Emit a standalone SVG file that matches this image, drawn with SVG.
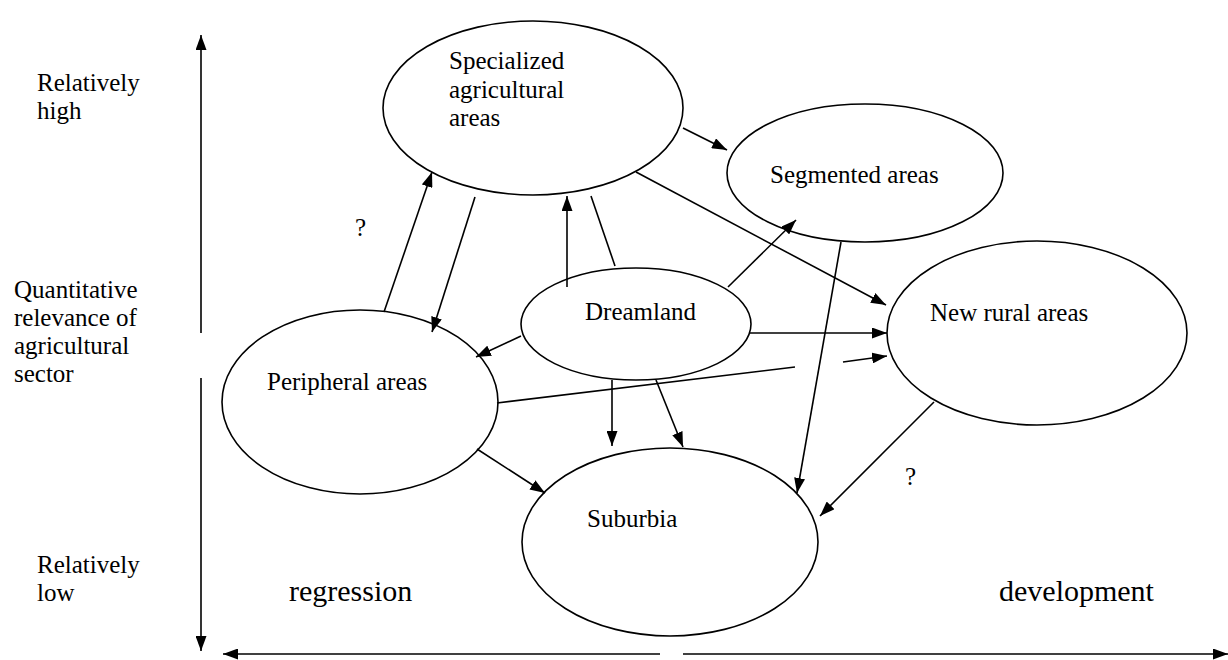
<svg xmlns="http://www.w3.org/2000/svg" width="1228" height="660" viewBox="0 0 1228 660">
<style>
.n{fill:#fff;stroke:#000;stroke-width:1.6}
.t{font-family:"Liberation Serif","Times New Roman",serif;font-size:25px;fill:#000}
.b{font-family:"Liberation Serif","Times New Roman",serif;font-size:30px;fill:#000}
.c line{stroke:#000;stroke-width:1.6}
.a{marker-end:url(#ah)}
</style>
<defs>
<marker id="ah" viewBox="0 0 15 11" refX="15" refY="5.5" markerWidth="15" markerHeight="11" markerUnits="userSpaceOnUse" orient="auto">
<path d="M0,0 L15,5.5 L0,11 z" fill="#000"/>
</marker>
</defs>
<rect width="1228" height="660" fill="#fff"/>
<g id="axes" class="c">
<line class="a" x1="201" y1="333" x2="201" y2="35"/>
<line class="a" x1="201" y1="378" x2="201" y2="651"/>
<line class="a" x1="660" y1="654" x2="223" y2="654"/>
<line class="a" x1="683" y1="654" x2="1228" y2="654"/>
</g>
<g id="axis-labels">
<text class="t" x="37" y="91">Relatively</text>
<text class="t" x="37" y="119">high</text>
<text class="t" x="14" y="298">Quantitative</text>
<text class="t" x="14" y="326">relevance of</text>
<text class="t" x="14" y="354">agricultural</text>
<text class="t" x="14" y="382">sector</text>
<text class="t" x="37" y="573">Relatively</text>
<text class="t" x="37" y="601">low</text>
<text class="b" x="289" y="601">regression</text>
<text class="b" x="999" y="601">development</text>
<text class="t" x="355" y="236">?</text>
<text class="t" x="905" y="485">?</text>
</g>
<g id="specialized">
<ellipse class="n" cx="533" cy="108" rx="150" ry="87"/>
<text class="t" x="449" y="69">Specialized</text>
<text class="t" x="449" y="98">agricultural</text>
<text class="t" x="449" y="126">areas</text>
</g>
<g id="segmented">
<ellipse class="n" cx="865" cy="173" rx="138" ry="69"/>
<text class="t" x="770" y="183">Segmented areas</text>
</g>
<g id="dreamland">
<ellipse class="n" cx="636" cy="324" rx="115" ry="56"/>
<text class="t" x="585" y="320">Dreamland</text>
</g>
<g id="newrural">
<ellipse class="n" cx="1037" cy="333" rx="150" ry="92"/>
<text class="t" x="930" y="321">New rural areas</text>
</g>
<g id="peripheral">
<ellipse class="n" cx="360" cy="402" rx="138" ry="92"/>
<text class="t" x="267" y="390">Peripheral areas</text>
</g>
<g id="suburbia">
<ellipse class="n" cx="670" cy="542" rx="148" ry="94"/>
<text class="t" x="587" y="527">Suburbia</text>
</g>
<g id="connectors" class="c">
<line class="a" x1="384" y1="312" x2="432" y2="172"/>
<line class="a" x1="475" y1="197" x2="432" y2="332"/>
<line class="a" x1="567" y1="287" x2="567" y2="196"/>
<line x1="615" y1="266" x2="591" y2="196"/>
<line class="a" x1="636" y1="172" x2="886" y2="305"/>
<line class="a" x1="683" y1="128" x2="727" y2="150"/>
<line class="a" x1="728" y1="287" x2="796" y2="220"/>
<line class="a" x1="521" y1="336" x2="476" y2="357"/>
<line class="a" x1="750" y1="333" x2="887" y2="333"/>
<line x1="497" y1="403" x2="795" y2="367"/>
<line class="a" x1="843" y1="362" x2="887" y2="356"/>
<line class="a" x1="612" y1="380" x2="612" y2="446"/>
<line class="a" x1="656" y1="380" x2="683" y2="447"/>
<line class="a" x1="841" y1="242" x2="797" y2="493"/>
<line class="a" x1="934" y1="402" x2="820" y2="516"/>
<line class="a" x1="477" y1="449" x2="545" y2="493"/>
</g>
</svg>
